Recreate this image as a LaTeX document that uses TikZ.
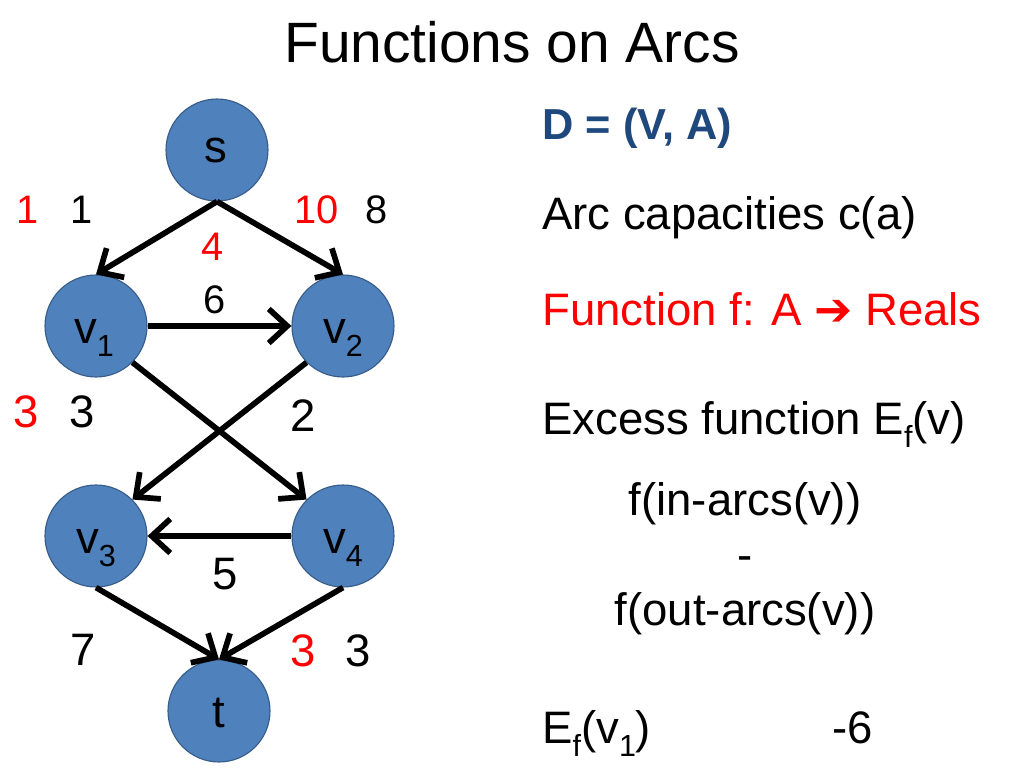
\documentclass[tikz,border=0pt]{standalone}
\usepackage{fontspec}
\usepackage{graphicx}
\setmainfont{Liberation Sans}
\newfontfamily\dejavu{DejaVu Sans}
\usetikzlibrary{arrows.meta}
\definecolor{nodefill}{RGB}{79,129,189}
\definecolor{nodeline}{RGB}{56,93,138}
\definecolor{dblue}{RGB}{31,73,125}
\definecolor{myred}{RGB}{255,0,0}
\newcommand\sbs[1]{\raisebox{-0.3em}{\scalebox{0.67}{#1}}}
\tikzset{
  vert/.style={circle,draw=nodeline,line width=0.8pt,fill=nodefill,minimum size=71.7pt,inner sep=0pt},
  arc/.style={line width=4pt,-{Straight Barb[length=13pt,width=24pt]}},
  txt/.style={inner sep=0pt,font=\fontsize{32}{38}\selectfont},
  lblA/.style={inner sep=0pt,anchor=base,font=\fontsize{28}{32}\selectfont},
  lblB/.style={inner sep=0pt,anchor=base,font=\fontsize{32}{36}\selectfont},
  vtxt/.style={inner sep=0pt,anchor=base,font=\fontsize{32}{36}\selectfont}
}
\begin{document}
\begin{tikzpicture}[x=0.703125pt,y=-0.703125pt]
\useasboundingbox[fill=white] (0,0) rectangle (1024,768);
% title
\node[inner sep=0pt,anchor=base,font=\fontsize{40}{48}\selectfont] (title) at (512,63) {Functions on Arcs};
% vertices
\node[vert] (s) at (217,150) {};
\node[vert] (v1) at (96,326) {};
\node[vert] (v2) at (343,326) {};
\node[vert] (v3) at (96,536) {};
\node[vert] (v4) at (343,536) {};
\node[vert] (t) at (219,711) {};
\node[vtxt] (ls) at (216,163) {s};
\node[vtxt] (lv1) at (94,343) {v\sbs{1}};
\node[vtxt] (lv2) at (343,343) {v\sbs{2}};
\node[vtxt] (lv3) at (96,553) {v\sbs{3}};
\node[vtxt] (lv4) at (343,553) {v\sbs{4}};
\node[vtxt] (lt) at (219,727) {t};
% arcs
\draw[arc] (s.south) -- (v1.north);
\draw[arc] (s.south) -- (v2.north);
\draw[arc] (v1.east) -- (v2.west);
\draw[arc] (v1.-45) -- (v4.135);
\draw[arc] (v2.-135) -- (v3.45);
\draw[arc] (v4.west) -- (v3.east);
\draw[arc] (v3.south) -- (t.north);
\draw[arc] (v4.south) -- (t.north);
% arc labels
\node[lblA,text=myred] (a1r) at (28,224) {1};
\node[lblA] (a1b) at (82,224) {1};
\node[lblA,text=myred] (a2r) at (317,224) {10};
\node[lblA] (a2b) at (377,224) {8};
\node[lblA,text=myred] (a3r) at (213,261) {4};
\node[lblA] (a3b) at (215,313) {6};
\node[lblB,text=myred] (a4r) at (26,427) {3};
\node[lblB] (a4b) at (82,427) {3};
\node[lblB] (a5b) at (303,431) {2};
\node[lblB] (a6b) at (225,589) {5};
\node[lblB] (a7b) at (83,665) {7};
\node[lblB,text=myred] (a8r) at (303,666) {3};
\node[lblB] (a8b) at (358,666) {3};
% right text
\node[inner sep=0pt,anchor=base west,font=\fontsize{30.5}{36}\selectfont\bfseries,text=dblue] (D) at (542,140) {D = (V, A)};
\node[txt,anchor=base west] (cap) at (542,230) {Arc capacities c(a)};
\node[txt,anchor=base west,text=myred] (fun) at (542,326) {Function f: A {\dejavu\fontsize{32}{36}\selectfont ➔} Reals};
\node[txt,anchor=base west] (exc) at (542,434) {Excess function E\sbs{f}(v)};
\node[txt,anchor=base] (fin) at (745,515) {f(in-arcs(v))};
\node[txt,anchor=base] (minus) at (745,570) {-};
\node[txt,anchor=base] (fout) at (745,625) {f(out-arcs(v))};
\node[txt,anchor=base west] (ev1) at (542,743) {E\sbs{f}(v\sbs{1})};
\node[txt,anchor=base west] (m6) at (832,743) {-6};
\end{tikzpicture}
\end{document}
